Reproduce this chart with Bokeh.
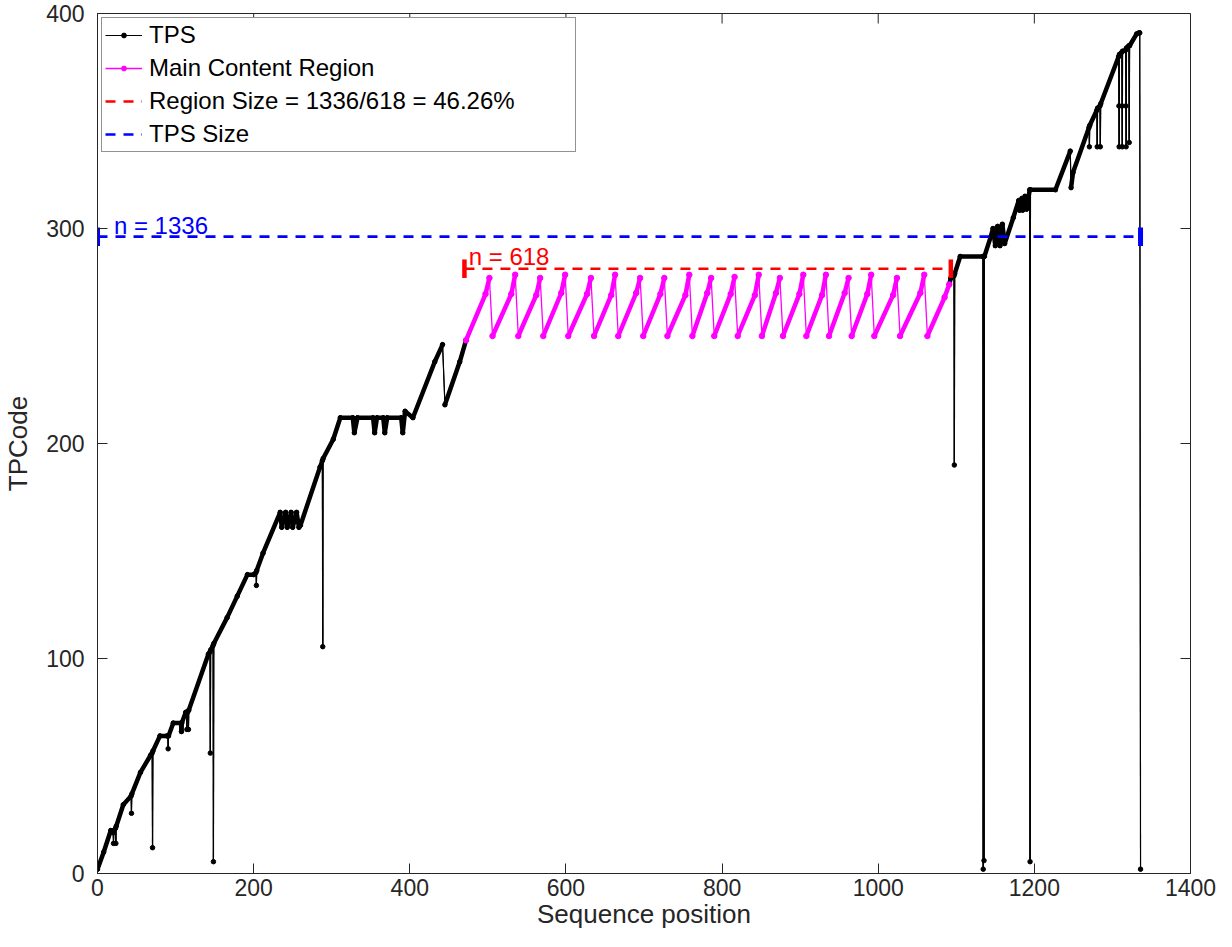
from bokeh.plotting import figure
from bokeh.models import Range1d, FixedTicker, Legend, LegendItem, ColumnDataSource
from bokeh.core.properties import value
from bokeh.embed import file_html
from bokeh.resources import INLINE

# ---------------- data ----------------
# TPS path before the main content region
tps_a_x = [0, 8, 17, 20, 20.5, 21, 23, 23.5, 24, 33, 43, 43.5, 44, 55, 68, 70, 70.5, 71,
           80, 89, 90, 90.5, 91, 97, 107, 107.5, 108, 113, 114, 114.5, 115, 116, 116.5, 117,
           142, 144, 144.5, 145, 148, 148.5, 149, 166, 179, 192, 200, 203, 203.5, 204, 212,
           234, 236, 241, 243, 248, 250, 255, 258, 260, 285, 288, 288.5, 289, 302, 311,
           327, 329, 333, 353, 355, 358, 366, 368, 371, 389, 391, 394, 404,
           432, 442, 445, 464, 472]
tps_a_y = [2, 10, 20, 19, 14, 20, 21, 14, 22, 32, 36, 28, 37, 47, 55, 56, 12, 57,
           64, 64, 64, 58, 64, 70, 70, 66, 70, 75, 75, 67, 75, 75.5, 67, 76,
           102, 103, 56, 104, 106, 5.5, 107, 119, 129, 139, 139, 140, 134, 141, 149,
           168, 161, 168, 161, 168, 161, 168, 161, 162, 189, 192, 105.5, 193, 202, 212,
           212, 205, 212, 212, 205, 212, 212, 205, 212, 212, 205, 215, 212,
           238, 246, 218, 238, 248]

# Main content region (magenta)
mcr_x = [472, 497, 502, 506,
         530, 535, 539,
         562, 567, 571,
         594, 599, 603,
         627, 632, 636,
         658, 663, 667,
         690, 695, 699,
         721, 726, 730,
         753, 758, 762,
         781, 786, 790,
         811, 816, 820,
         842, 847, 851,
         869, 874, 878,
         899, 904, 908,
         928, 933, 937,
         957, 962, 966,
         986, 991, 995,
         1019, 1024, 1028,
         1054, 1059, 1063,
         1085, 1091]
mcr_y = [248, 269.5, 277, 250,
         269.5, 278.5, 250,
         269, 277, 250,
         270, 278.5, 250,
         269.5, 277, 250,
         269, 278.5, 250,
         270, 277, 250,
         269.5, 277, 250,
         269, 278.5, 250,
         270, 277, 250,
         269.5, 277.5, 250,
         269, 278.5, 250,
         270, 277, 250,
         269.5, 278.5, 250,
         269, 278.5, 250,
         270, 277, 250,
         269.5, 278.5, 250,
         269, 277, 250,
         270, 278.5, 250,
         268, 274]

# TPS path after the main content region
tps_c_x = [1091, 1093, 1097, 1097.5, 1098, 1105, 1134, 1134.5, 1135, 1135.5, 1136,
           1144, 1147, 1150, 1153, 1156, 1159, 1162, 1173,
           1180, 1181, 1184, 1185, 1188, 1190, 1194, 1194.5, 1195, 1227,
           1246, 1247, 1249.5, 1270, 1270.5, 1271, 1280, 1280.5, 1281, 1284, 1284.5, 1285,
           1308, 1308.3, 1308.6, 1309, 1312, 1312.3, 1312.6, 1313, 1317, 1317.3, 1317.6, 1318,
           1321, 1321.5, 1322, 1331, 1334, 1335, 1336]
tps_c_y = [274, 277, 278, 190, 279, 287, 287, 2, 287, 6, 287,
           296, 300, 292, 301, 292, 302, 293, 305,
           313, 308.5, 314, 308.5, 315, 309, 318, 5.5, 318, 318,
           336, 319, 326, 347, 338, 348, 355, 338, 356, 357, 338, 358,
           380, 357, 338, 381, 382, 357, 338, 382.5, 383, 357, 338, 384,
           385, 340, 385, 390.5, 391, 391, 2]

region_x = [470, 1093]      # main content region extent
region_y = [281.3, 281.3]
tps_size_x = [0, 1336]      # TPS extent
tps_size_y = [296.2, 296.2]

region_label = "n = 618"
tps_label = "n = 1336"
legend_labels = ["TPS", "Main Content Region", "Region Size = 1336/618 = 46.26%", "TPS Size"]
x_ticks = [0, 200, 400, 600, 800, 1000, 1200, 1400]
y_ticks = [0, 100, 200, 300, 400]

# ---------------- layout / styling ----------------
FONT = "Liberation Sans"
AX = "#262626"
BLACK, MAGENTA, RED, BLUE = "#000000", "#FF00FF", "#FF0000", "#0000FF"
W, H = 1216, 931
BL, BR, BT, BB = 96, 26, 13, 58
X0, X1, Y0, Y1 = 0, 1400, 0, 400
TICK_PX = 10


def split_segments(xs, ys):
    thick = dict(x0=[], y0=[], x1=[], y1=[])
    thin = dict(x0=[], y0=[], x1=[], y1=[])
    for i in range(len(xs) - 1):
        dx = abs(xs[i + 1] - xs[i])
        dy = abs(ys[i + 1] - ys[i])
        tgt = thin if (dy > 4 and dy > 5 * dx) else thick
        tgt["x0"].append(xs[i]); tgt["y0"].append(ys[i])
        tgt["x1"].append(xs[i + 1]); tgt["y1"].append(ys[i + 1])
    return thick, thin


p = figure(width=W, height=H, output_backend="svg", toolbar_location=None,
           x_range=Range1d(X0, X1), y_range=Range1d(Y0, Y1),
           min_border_left=BL, min_border_right=BR, min_border_top=BT, min_border_bottom=BB)
p.background_fill_color = "white"
p.border_fill_color = "white"
p.outline_line_color = AX
p.grid.visible = False

for ax, ticks in ((p.xaxis[0], x_ticks), (p.yaxis[0], y_ticks)):
    ax.ticker = FixedTicker(ticks=ticks)
    ax.major_tick_in = TICK_PX
    ax.major_tick_out = 0
    ax.minor_tick_in = 0
    ax.minor_tick_out = 0
    ax.axis_line_color = AX
    ax.major_tick_line_color = AX
    ax.major_label_text_font = FONT
    ax.major_label_text_font_size = "23px"
    ax.major_label_text_color = AX
    ax.axis_label_text_font = FONT
    ax.axis_label_text_font_size = "26px"
    ax.axis_label_text_font_style = "normal"
    ax.axis_label_text_color = AX

p.xaxis.axis_label = "Sequence position"
p.yaxis.axis_label = "TPCode"
p.xaxis.major_label_standoff = 5
p.xaxis.axis_label_standoff = 0
p.yaxis.major_label_standoff = 13
p.yaxis.axis_label_standoff = 10

# mirrored tick marks on the top and right edges (box style)
fw = W - BL - BR
fh = H - BT - BB
dy_t = TICK_PX * (Y1 - Y0) / fh
dx_t = TICK_PX * (X1 - X0) / fw
p.segment(x0=x_ticks, y0=[Y1] * len(x_ticks), x1=x_ticks, y1=[Y1 - dy_t] * len(x_ticks),
          line_color=AX, line_width=1)
p.segment(x0=[X1] * len(y_ticks), y0=y_ticks, x1=[X1 - dx_t] * len(y_ticks), y1=y_ticks,
          line_color=AX, line_width=1)

# TPS (black)
tps_lines = []
tps_dots = []
for xs, ys in ((tps_a_x, tps_a_y), (tps_c_x, tps_c_y)):
    thick, thin = split_segments(xs, ys)
    tps_lines.append(p.line(xs, ys, line_color=BLACK, line_width=1))
    p.segment(x0="x0", y0="y0", x1="x1", y1="y1", source=ColumnDataSource(thin),
              line_color=BLACK, line_width=1.2)
    p.segment(x0="x0", y0="y0", x1="x1", y1="y1", source=ColumnDataSource(thick),
              line_color=BLACK, line_width=4.5, line_cap="round")
    tps_dots.append(p.scatter(xs, ys, size=4.5, marker="circle",
                              fill_color=BLACK, line_color=BLACK))

# Main content region (magenta)
thick, thin = split_segments(mcr_x, mcr_y)
mcr_line = p.line(mcr_x, mcr_y, line_color=MAGENTA, line_width=1.3)
p.segment(x0="x0", y0="y0", x1="x1", y1="y1", source=ColumnDataSource(thick),
          line_color=MAGENTA, line_width=4.5, line_cap="round")
mcr_dots = p.scatter(mcr_x, mcr_y, size=5.5, marker="circle", fill_color=MAGENTA, line_color=MAGENTA)

# dashed extents
r_region = p.line(region_x, region_y, line_color=RED, line_width=2.6, line_dash="10 8")
r_tps = p.line(tps_size_x, tps_size_y, line_color=BLUE, line_width=2.6, line_dash="10 8")

# end bars
p.segment(x0=region_x, y0=[y - 4.3 for y in region_y], x1=region_x, y1=[y + 4.3 for y in region_y],
          line_color=RED, line_width=4.5)
p.segment(x0=tps_size_x, y0=[y - 4.3 for y in tps_size_y], x1=tps_size_x,
          y1=[y + 4.3 for y in tps_size_y], line_color=BLUE, line_width=5)

# labels
p.text(x=[21], y=[tps_size_y[0] - 1.0], text=[tps_label], text_color=BLUE, text_font=value(FONT),
       text_font_size="24px", text_baseline="bottom", text_align="left")
p.text(x=[475.5], y=[region_y[0] - 0.4], text=[region_label], text_color=RED, text_font=value(FONT),
       text_font_size="24px", text_baseline="bottom", text_align="left")

legend = Legend(items=[
    LegendItem(label=legend_labels[0], renderers=[tps_lines[0], tps_dots[0]]),
    LegendItem(label=legend_labels[1], renderers=[mcr_line, mcr_dots]),
    LegendItem(label=legend_labels[2], renderers=[r_region]),
    LegendItem(label=legend_labels[3], renderers=[r_tps]),
], location="top_left")
legend.margin = 4
legend.padding = 3
legend.spacing = 5
legend.label_standoff = 7
legend.glyph_width = 37
legend.glyph_height = 12
legend.label_height = 24
legend.label_width = 423
legend.label_text_font = FONT
legend.label_text_font_size = "24px"
legend.label_text_color = BLACK
legend.border_line_color = AX
legend.border_line_width = 1
legend.background_fill_color = "white"
legend.background_fill_alpha = 1.0
p.add_layout(legend)

open("out.html", "w").write(file_html(p, INLINE))
